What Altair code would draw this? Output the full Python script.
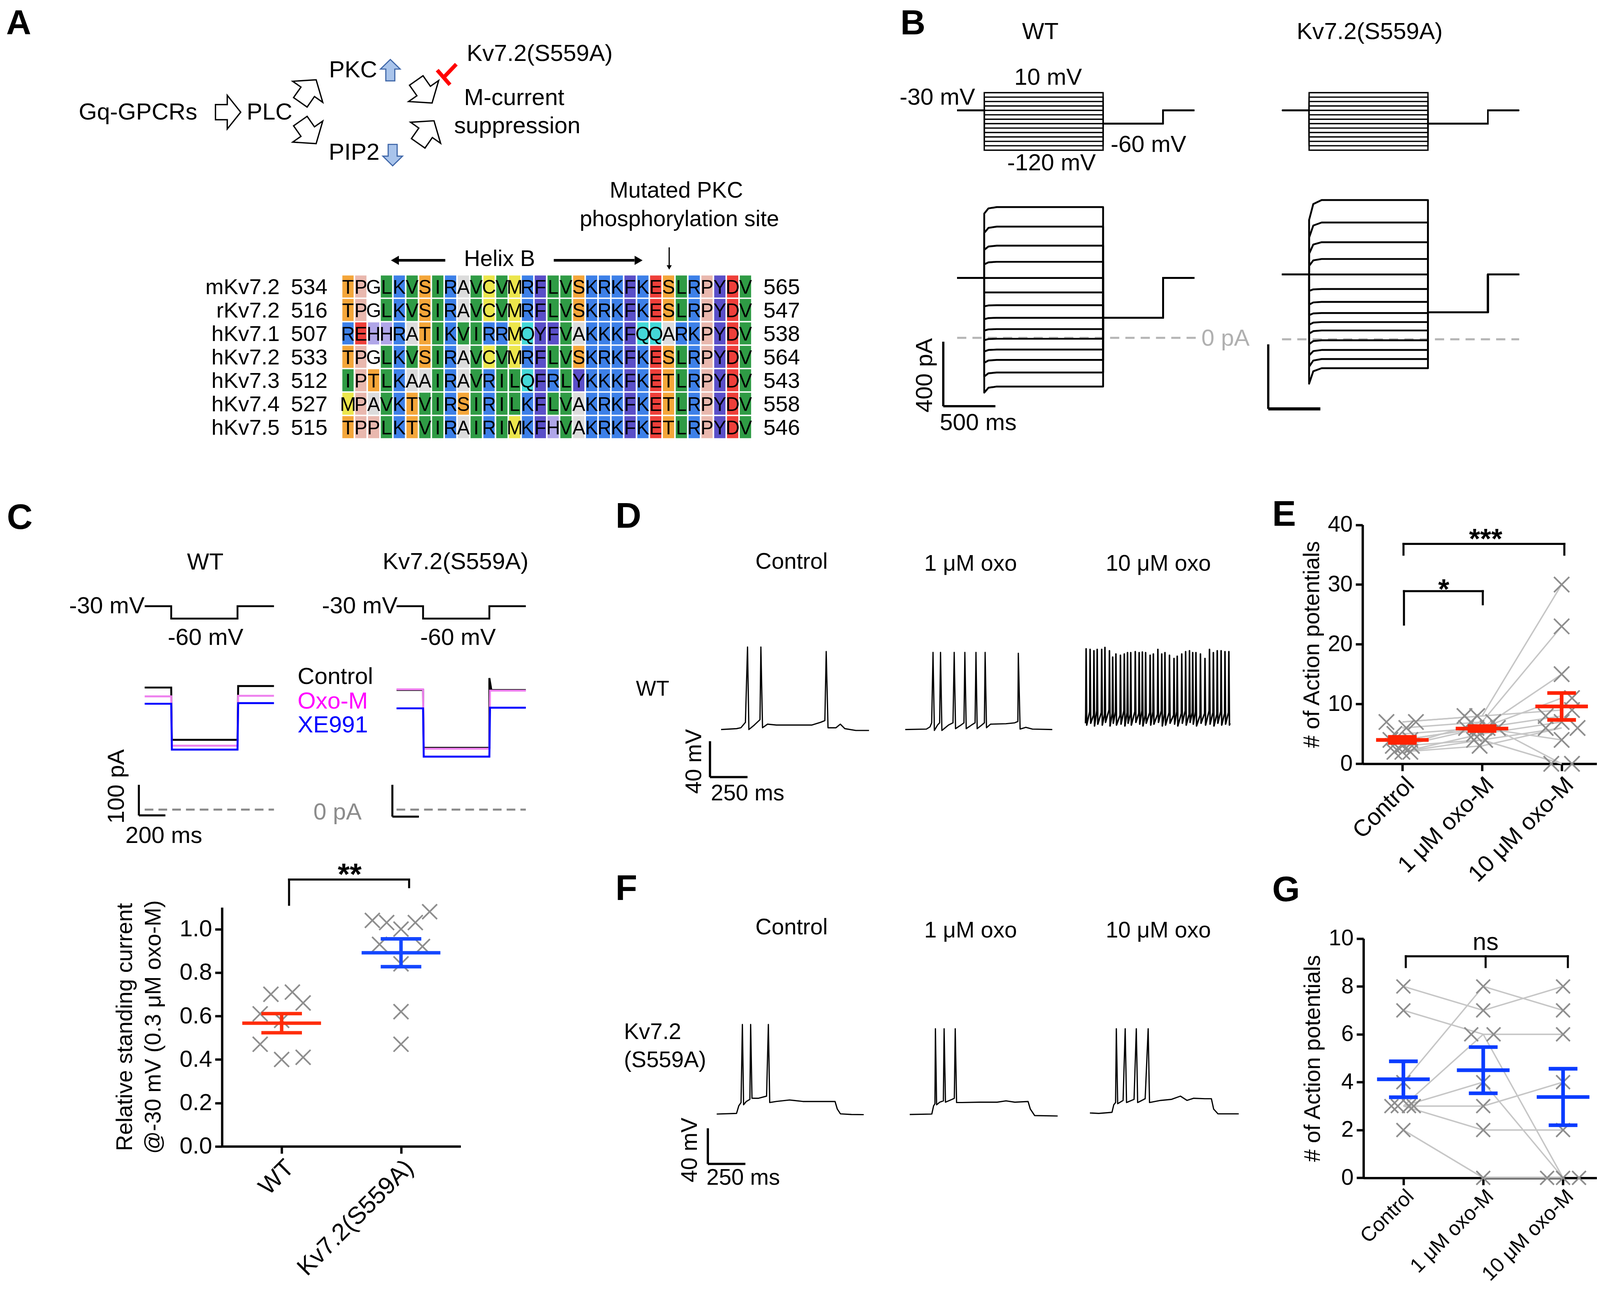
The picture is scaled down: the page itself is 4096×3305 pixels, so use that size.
import altair as alt
import pandas as pd

# ---------------------------------------------------------------- layout helpers
S = 2.634 * 0.991          # reference-preview px (1568x1265) -> output px
OFF = -2.0
W, H = 4080, 3289
FONT = "Liberation Sans"
NARROW = "Liberation Sans Narrow, Liberation Sans"


def P(v):
    return v * S + OFF


def sc(dom, r0, r1):
    return alt.Scale(domain=dom, range=[P(r0), P(r1)], nice=False, zero=False)


FX = sc([0, 1568], 0, 1568)
FY = sc([0, 1265], 0, 1265)


def qx(f, s, axis=None, title=None):
    if axis is None:
        return alt.X(f + ":Q", scale=s, axis=None)
    return alt.X(f + ":Q", scale=s, axis=axis, title=title)


def qy(f, s, axis=None, title=None):
    if axis is None:
        return alt.Y(f + ":Q", scale=s, axis=None)
    return alt.Y(f + ":Q", scale=s, axis=axis, title=title)


def seg_layer(rows, xs, ys, color="black", width=2.0, dash=None, cap="butt"):
    df = pd.DataFrame(rows, columns=["x", "y", "x2", "y2"])
    kw = dict(color=color, strokeWidth=width * S, strokeCap=cap)
    if dash is not None:
        kw["strokeDash"] = [d * S for d in dash]
    return alt.Chart(df).mark_rule(**kw).encode(
        x=qx("x", xs), y=qy("y", ys), x2="x2:Q", y2="y2:Q")


def line_layer(df, xs, ys, color="black", width=1.5, detail=None, join="round"):
    enc = dict(x=qx("t", xs), y=qy("v", ys), order=alt.Order("i:Q"))
    if detail:
        enc["detail"] = alt.Detail(detail + ":N")
    return alt.Chart(df).mark_line(color=color, strokeWidth=width * S,
                                   strokeJoin=join, strokeCap="butt").encode(**enc)


def pts_df(pairs):
    return pd.DataFrame([dict(i=k, t=t, v=v) for k, (t, v) in enumerate(pairs)])


def text_layers(rows, xs=FX, ys=FY):
    df = pd.DataFrame(rows, columns=["t", "x", "y", "s", "al", "fw", "c", "a"])
    df["s"] = df["s"] * S
    out = []
    for (al, fw), g in df.groupby(["al", "fw"], sort=False):
        out.append(alt.Chart(g.reset_index(drop=True)).mark_text(
            align=al, baseline="middle", font=FONT, fontWeight=fw).encode(
            x=qx("x", xs), y=qy("y", ys), text=alt.Text("t:N"),
            size=alt.Size("s:Q", scale=None, legend=None),
            color=alt.Color("c:N", scale=None, legend=None),
            angle=alt.Angle("a:Q", scale=None, legend=None)))
    return out


def T(t, x, y, s=23, al="center", fw="normal", c="black", a=0):
    return (t, x, y, s, al, fw, c, a)


def left_axis(xpos, values, title_pad=4, fmt=None, lab=22):
    kw = dict(orient="left", offset=-P(xpos), values=values, grid=False,
              labelOverlap=False, labelFlush=False, labelLimit=2000,
              domainColor="black", domainWidth=2.3 * S, tickColor="black",
              tickWidth=2.3 * S, tickSize=6.8 * S, labelFont=FONT,
              labelFontSize=lab * S, labelColor="black", labelPadding=3 * S,
              titleFont=FONT, titleFontSize=22 * S, titleFontWeight="normal",
              titleColor="black", titlePadding=title_pad * S,
              titleLineHeight=28 * S, titleLimit=4000)
    if fmt:
        kw["format"] = fmt
    return alt.Axis(**kw)


def bottom_axis(ypos, values, labels, lab=24, pad=2):
    expr = "[" + ",".join("'" + l + "'" for l in labels) + "][datum.value]"
    return alt.Axis(orient="bottom", offset=P(ypos) - H, values=values, grid=False,
                    labelExpr=expr, labelAngle=-45, labelAlign="right",
                    labelBaseline="top", labelOverlap=False, labelFlush=False,
                    labelLimit=2000,
                    domainColor="black", domainWidth=2.3 * S, tickColor="black",
                    tickWidth=2.3 * S, tickSize=7 * S, labelFont=FONT,
                    labelFontSize=lab * S, labelColor="black", labelPadding=pad * S)


XPATH = "M -1 -1 L 1 1 M -1 1 L 1 -1"


def cross_layer(df, xs, ys, size, xaxis=None, yaxis=None, ytitle=None):
    return alt.Chart(df).mark_point(shape=XPATH, filled=False, color="#8E8E8E",
                                    strokeWidth=1.6 * S, size=size, opacity=1).encode(
        x=qx("x", xs, xaxis, None), y=qy("y", ys, yaxis, ytitle))


def mean_segs(k, m, s, half=0.33, cap=0.175):
    return [(k - half, m, k + half, m), (k - cap, m + s, k + cap, m + s),
            (k - cap, m - s, k + cap, m - s), (k, m - s, k, m + s)]


def star_layer(txt, x, y, xs, ys, size=28, bold=True):
    fs = size * S
    df = pd.DataFrame([dict(x=x, y=y, t=txt)])
    return alt.Chart(df).mark_text(font=FONT, fontSize=fs, fontWeight="bold" if bold else "normal",
                                   baseline="alphabetic", dy=0.56 * fs, color="black").encode(
        x=qx("x", xs), y=qy("y", ys), text="t:N")


# ================================================================ DATA
# ---- panel A pathway diagram (centre x, centre y, angle, size)
ARROWS_OPEN = [(221.4, 107.7, 0, 33), (300, 87, 305, 36), (300, 127.5, 55, 36),
               (413.7, 87.7, 55, 36), (415.6, 127.2, 305, 36)]
ARROWS_UP = [(380.5, 66.5)]
ARROWS_DOWN = [(382.8, 149.8)]

# ---- sequence alignment
ALN_NAMES = ["mKv7.2", "rKv7.2", "hKv7.1", "hKv7.2", "hKv7.3", "hKv7.4", "hKv7.5"]
ALN_START = [534, 516, 507, 533, 512, 527, 515]
ALN_END = [565, 547, 538, 564, 543, 558, 546]
ALN_SEQ = ["TPGLKVSIRAVCVMRFLVSKRKFKESLRPYDV",
           "TPGLKVSIRAVCVMRFLVSKRKFKESLRPYDV",
           "REHHRATIKVIRRMQYFVAKKKFQQARKPYDV",
           "TPGLKVSIRAVCVMRFLVSKRKFKESLRPYDV",
           "IPTLKAAIRAVRILQFRLYKKKFKETLRPYDV",
           "MPAVKTVIRSIRILKFLVAKRKFKETLRPYDV",
           "TPPLKTVIRAIRIMKFHVAKRKFKETLRPYDV"]
AA_COLORS = {"T": "#F4A63A", "S": "#F4A63A", "P": "#E9B8AE", "G": "#FFFFFF",
             "L": "#2F9B45", "V": "#2F9B45", "I": "#2F9B45",
             "K": "#3D80E8", "R": "#3D80E8", "A": "#DCDCDC",
             "C": "#ECE64C", "M": "#ECE64C", "F": "#5A4FC8", "Y": "#5A4FC8",
             "E": "#EE3F3A", "D": "#EE3F3A", "Q": "#44D8D8", "H": "#B0A6E8"}

# ---- panel B (ms, mV, pA)
B_STEPS_MV = [10, 0, -10, -20, -30, -40, -50, -60, -70, -80, -90, -100, -110, -120]
B_TIMES = [0, 260, 1400, 1975, 2275]
BWT_LEVELS = [810, 689, 571, 471, 371, 281, 202, 124, 54, -6, -73, -137, -215, -302]
BWT_ONSET = [770, 650, 545, 455, 371, 281, 195, 115, 45, -15, -85, -155, -240, -340]
BWT_HOLD, BWT_TAIL = 371, 124
BMT_LEVELS = [863, 724, 602, 498, 402, 312, 232, 163, 107, 55, -6, -66, -122, -179]
BMT_ONSET = [740, 630, 530, 455, 402, 300, 215, 150, 90, 35, -30, -100, -170, -275]
BMT_HOLD, BMT_TAIL = 402, 168

# ---- panel C traces (ms, mV, pA)
C_PROTO = [(0, -30), (200, -30), (200, -60), (700, -60), (700, -30), (975, -30)]
C_TRACE_COLORS = ["#000000", "#EE80EE", "#0000FF"]
CWT_PRE = [399, 370, 346]
CWT_STEP = [228, 209, 196]
CWT_POST = [404, 372, 348]
CMT_PRE = [391, 393, 331]
CMT_STEP = [202, 199, 173]
CMT_POST = [391, 389, 333]

# ---- panel C summary
C_WT = [0.70, 0.71, 0.66, 0.61, 0.58, 0.47, 0.40, 0.41]
C_WT_JIT = [-0.09, 0.09, 0.18, -0.18, 0.0, -0.18, 0.0, 0.18]
C_MUT = [1.04, 1.03, 1.00, 1.03, 1.08, 0.93, 0.92, 0.84, 0.62, 0.47]
C_MUT_JIT = [-0.24, -0.12, 0.0, 0.12, 0.24, -0.18, 0.18, 0.0, 0.0, 0.0]
C_MEAN = [0.567, 0.891]
C_SEM = [0.044, 0.064]

# ---- panel D / F voltage traces (ms, mV)
D_CTRL = [(0, -65), (103, -64), (132, -63), (162, -57), (176, 27), (185, -65), (221, -60),
          (259, -54), (265, 27), (276, -63), (309, -59), (368, -60), (485, -60), (603, -60),
          (662, -57), (691, -55), (700, 22), (712, -63), (765, -63), (794, -59), (824, -64),
          (897, -66), (985, -66)]
D_1UM = [(0, -65), (141, -64.5), (165, -62), (176, -57.5), (185, 21), (194, -66), (215, -60),
         (229, -57.5), (235, 21), (244, -66), (288, -60), (318, -57.5), (326, 21), (335, -64),
         (371, -60), (391, -57.5), (397, 21), (406, -64), (441, -60), (465, -57.5), (471, 21),
         (479, -64), (509, -60), (527, -57.5), (532, 21), (541, -63), (568, -59), (671, -58.5),
         (729, -57.5), (750, -56), (753, 20), (765, -64.5), (803, -62.5), (847, -64.5), (979, -65)]
D_10UM_T = [4, 30.5, 56, 77.7, 107.8, 129.3, 159.4, 180.9, 202.4, 232.5, 258.3, 279.7, 301.2,
            331.3, 357.1, 378.6, 400.1, 430.2, 451.7, 481.8, 507.5, 529, 559.1, 589.2, 610.7,
            640.8, 666.6, 692.4, 713.8, 735.3, 765.4, 795.5, 825.6, 851.4, 877.2, 903, 928.7,
            954.5]
D_10UM_PK = [25.0, 24.3, 22.8, 24.3, 24.3, 26.5, 22.8, 15.7, 19.2, 17.8, 19.2, 20.7, 20.7,
             21.8, 20.7, 21.4, 20.7, 17.8, 19.2, 24.3, 19.2, 20.7, 17.8, 14.2, 16.7, 19.2,
             21.8, 22.8, 20.7, 20.7, 19.2, 14.2, 24.3, 20.7, 22.8, 22.8, 21.8, 21.8]
D_10UM_PRE = [-47, -45, -49, -44, -46, -48, -43, -47, -45, -49, -44, -46, -48, -45, -47,
              -44, -49, -46, -45, -48, -44, -47, -46, -49, -45, -47, -44, -48, -46, -45,
              -49, -47, -44, -46, -48, -45, -47, -46]
D_10UM_TR = [-60, -58, -61, -59, -60, -57, -61, -58, -60, -59, -61, -58, -60, -57, -59,
             -61, -58, -60, -59, -57, -61, -60, -58, -59, -61, -58, -60, -57, -59, -61,
             -58, -60, -59, -61, -58, -60, -59, -60]
F_CTRL = [(0, -65), (132, -64.3), (147, -55.8), (162, -52.1), (171, 35.6), (179, -54.6),
          (197, -50.9), (221, -48.5), (226, 35.6), (235, -47.3), (279, -47.3), (332, -44.9),
          (344, 35.6), (353, -52.1), (397, -50.9), (485, -49.2), (574, -50.9), (691, -50.9),
          (788, -50.9), (803, -59.4), (824, -64.8), (897, -65.5), (979, -65.7)]
F_1UM = [(0, -65.5), (147, -65), (159, -55.8), (168, -53.4), (171, 30.8), (179, -54.6),
         (200, -51.7), (224, -50.2), (229, 30.8), (238, -51.7), (282, -48.5), (297, -47.3),
         (303, 30.8), (312, -52.1), (347, -52.1), (465, -51.7), (582, -51.7), (641, -50.2),
         (700, -51.7), (788, -50.9), (803, -59.4), (832, -66.7), (985, -67.2)]
F_10UM = [(0, -63.8), (59, -64.3), (147, -63.1), (159, -54.6), (171, -52.1), (176, 30.8),
          (185, -53.4), (221, -49.7), (235, 30.8), (244, -52.1), (294, -48.5), (309, 30.8),
          (318, -52.1), (368, -47.8), (388, 30.8), (397, -52.1), (471, -49.7), (544, -48.5),
          (603, -44.9), (647, -49.7), (691, -47.3), (765, -47.8), (809, -47.8), (824, -59.4),
          (853, -64.8), (991, -64.8)]

# ---- panel E (# APs, WT)
E_LABELS = ["Control", "1 μM oxo-M", "10 μM oxo-M"]
E_CTRL = [7, 6, 5, 4, 7, 3, 2, 3, 2, 4, 2, 3]
E_1UM = [8, 7, 6, 6, 8, 6, 5, 4, 3, 6, 4, 7]
E_10UM = [30, 23, 15, 11, 9, 8, 7, 6, 6, 4, 0, 0]
E_JIT = [[-0.20, 0.05, -0.10, -0.15, 0.17, -0.12, -0.10, 0.0, 0.0, 0.10, 0.10, 0.12],
         [-0.22, 0.14, -0.20, -0.07, -0.06, 0.07, -0.10, 0.04, -0.03, 0.20, -0.10, -0.14],
         [0.0, 0.0, 0.0, 0.13, 0.13, -0.20, 0.0, -0.20, 0.20, 0.0, -0.13, 0.13]]
E_MEAN = [4.0, 5.9, 9.6]
E_SEM = [0.5, 0.4, 2.25]

# ---- panel G (# APs, S559A)
G_CTRL = [8, 7, 4, 3, 3, 3, 3, 2]
G_1UM = [7, 6, 8, 6, 3, 4, 2, 0]
G_10UM = [8, 6, 7, 0, 4, 0, 2, 0]
G_JIT = [[0, 0, 0, -0.15, -0.07, 0.07, 0.13, 0],
         [0, -0.15, 0, 0.13, 0, 0, 0, 0],
         [0, 0, 0, -0.2, 0, 0, 0, 0.2]]
G_MEAN = [4.12, 4.5, 3.38]
G_SEM = [0.75, 0.965, 1.18]

# ================================================================ TEXT
TEXTS = [
    T("A", 16, 21, 34, fw="bold"), T("B", 893, 21, 34, fw="bold"), T("C", 17, 506, 35, fw="bold"),
    T("D", 614, 505, 35, fw="bold"), T("E", 1257, 503, 35, fw="bold"),
    T("F", 612, 870, 35, fw="bold"), T("G", 1259, 871, 35, fw="bold"),
    T("Gq-GPCRs", 133, 108), T("PLC", 262, 108), T("PKC", 344, 66.5), T("PIP2", 345, 147.5),
    T("Kv7.2(S559A)", 527, 50.6), T("M-current", 502, 93.7), T("suppression", 505, 121.5),
    T("Mutated PKC", 661, 185, 22), T("phosphorylation site", 664, 213, 22),
    T("Helix B", 487.6, 252.2, 22),
    T("WT", 1018, 29), T("Kv7.2(S559A)", 1341, 29),
    T("-30 mV", 917, 93.5), T("10 mV", 1025.6, 74), T("-60 mV", 1124, 139.7),
    T("-120 mV", 1029, 158),
    T("0 pA", 1199.6, 330, c="#B0B0B0"), T("400 pA", 904.7, 365.8, a=270), T("500 ms", 957, 412.5),
    T("WT", 199, 549.4), T("Kv7.2(S559A)", 444.5, 549),
    T("-30 mV", 139.6, 592.2, al="right"), T("-30 mV", 387.6, 592.2, al="right"),
    T("-60 mV", 199.3, 623.4), T("-60 mV", 446.9, 623.4),
    T("Control", 289.5, 661.5, al="left"), T("Oxo-M", 289.5, 685.8, al="left", c="#FF00FF"),
    T("XE991", 289.5, 709, al="left", c="#0000FF"),
    T("100 pA", 112.4, 769, a=270), T("200 ms", 158.4, 817.6), T("0 pA", 328.7, 794.5, c="#8C8C8C"),
    T("Control", 774, 548.8, 22), T("1 μM oxo", 949.6, 550.8, 22), T("10 μM oxo", 1133.7, 550.8, 22),
    T("WT", 637.7, 674, 21), T("40 mV", 678.9, 744.5, 22, a=270), T("250 ms", 730.9, 776.3, 22),
    T("Control", 774, 907.6, 22), T("1 μM oxo", 949.6, 910.7, 22), T("10 μM oxo", 1133.7, 910.7, 22),
    T("Kv7.2", 609.6, 1010.2, 22, al="left"), T("(S559A)", 609.6, 1037.8, 22, al="left"),
    T("40 mV", 674.6, 1125.6, 22, a=270), T("250 ms", 726.6, 1153.1, 22),
]

# ================================================================ LAYERS (flat, independent)
layers = []

ARROW_PATH = "M -0.75 -0.45 L -0.05 -0.45 L -0.05 -1 L 0.75 0 L -0.05 1 L -0.05 0.45 L -0.75 0.45 Z"
UP_PATH = "M -0.42 1 L -0.42 -0.1 L -0.92 -0.1 L 0 -1 L 0.92 -0.1 L 0.42 -0.1 L 0.42 1 Z"
DOWN_PATH = "M -0.42 -1 L -0.42 0.1 L -0.92 0.1 L 0 1 L 0.92 0.1 L 0.42 0.1 L 0.42 -1 Z"


def glyphs(rows, shape, fill, stroke, sw):
    df = pd.DataFrame(rows, columns=["x", "y", "a", "sz"])
    df["sz"] = (df["sz"] * S) ** 2
    return alt.Chart(df).mark_point(shape=shape, filled=True, fill=fill,
                                    stroke=stroke, strokeWidth=sw, opacity=1).encode(
        x=qx("x", FX), y=qy("y", FY), angle=alt.Angle("a:Q", scale=None, legend=None),
        size=alt.Size("sz:Q", scale=None, legend=None))


def tri(x, y, shape, size):
    df = pd.DataFrame([dict(x=x, y=y)])
    return alt.Chart(df).mark_point(shape=shape, size=size, filled=True, color="black",
                                    opacity=1).encode(x=qx("x", FX), y=qy("y", FY))


layers += [
    glyphs(ARROWS_OPEN, ARROW_PATH, "white", "black", 1.3 * S),
    glyphs([(x, y, 0, 21) for x, y in ARROWS_UP], UP_PATH, "#A9C4EB", "#3E66A8", 1.1 * S),
    glyphs([(x, y, 0, 21) for x, y in ARROWS_DOWN], DOWN_PATH, "#A9C4EB", "#3E66A8", 1.1 * S),
    seg_layer([(426.5, 66.5, 439, 80.8), (432.8, 73.7, 445.2, 60.7)], FX, FY,
              color="#FF0000", width=3.8),
    seg_layer([(434.4, 253, 388, 253), (540.8, 253, 620, 253)], FX, FY, width=2.6),
    seg_layer([(654, 240.3, 654, 258)], FX, FY, width=1.2),
    tri(385, 253, "triangle-left", (9 * S) ** 2),
    tri(624, 253, "triangle-right", (9 * S) ** 2),
    tri(654, 260, "triangle-down", (5 * S) ** 2),
]
layers += text_layers(TEXTS)

# ---- alignment
AX = sc([0, 32], 332.7, 735.1)
AY = sc([0, 7], 267.2, 428.1)
aln = pd.DataFrame([dict(row=r, pos=p, aa=aa, col=AA_COLORS[aa])
                    for r, seq in enumerate(ALN_SEQ) for p, aa in enumerate(seq)])
layers.append(alt.Chart(aln).transform_calculate(
    x0="datum.pos + 0.06", x1="datum.pos + 0.94", y0="datum.row + 0.03", y1="datum.row + 0.97"
).mark_rect().encode(x=qx("x0", AX), x2="x1:Q", y=qy("y0", AY), y2="y1:Q",
                     color=alt.Color("col:N", scale=None, legend=None)))
layers.append(alt.Chart(aln).transform_calculate(xc="datum.pos + 0.5", yc="datum.row + 0.56").mark_text(
    font=NARROW, fontSize=19 * S, baseline="middle", color="black").encode(
    x=qx("xc", AX), y=qy("yc", AY), text="aa:N"))
lab = pd.DataFrame([dict(row=r, name=n, s=str(a), e=str(b))
                    for r, (n, a, b) in enumerate(zip(ALN_NAMES, ALN_START, ALN_END))])
for field, xn, al in (("name", "-4.83", "right"), ("s", "-3.95", "left"), ("e", "32.9", "left")):
    layers.append(alt.Chart(lab).transform_calculate(yc="datum.row + 0.55", xn=xn).mark_text(
        font=FONT, fontSize=21.5 * S, align=al, baseline="middle", color="black").encode(
        x=qx("xn", AX), y=qy("yc", AY), text=field + ":N"))

# ---- panel B: voltage protocols
proto_rows = []
for k, L in enumerate(B_STEPS_MV):
    vs = [(B_TIMES[0], -30), (B_TIMES[1], -30), (B_TIMES[1], L), (B_TIMES[2], L),
          (B_TIMES[2], -60), (B_TIMES[3], -60), (B_TIMES[3], -30), (B_TIMES[4], -30)]
    proto_rows += [dict(sw=k, i=i, t=t, v=v) for i, (t, v) in enumerate(vs)]
proto_df = pd.DataFrame(proto_rows)
BV_Y = sc([-120, 10], 145.0, 88.6)
BWT_X = sc([0, 2275], 936.4, 1169.0)
BMT_X = sc([0, 2275], 1255.0, 1487.6)
for bx in (BWT_X, BMT_X):
    layers.append(line_layer(proto_df, bx, BV_Y, width=1.3, detail="sw", join="miter"))


def b_current(levels, onset, hold, tail):
    rows = []
    for k, (lv, on) in enumerate(zip(levels, onset)):
        vs = [(0, hold), (260, hold), (260, on), (300, (on + lv) / 2.0 + (lv - on) * 0.3),
              (380, lv), (1400, lv), (1400, tail), (1975, tail), (1975, hold), (2275, hold)]
        rows += [dict(sw=k, i=i, t=t, v=v) for i, (t, v) in enumerate(vs)]
    return pd.DataFrame(rows)


BWT_IY = sc([-400, 1000], 392.3, 170.75)
BMT_IY = sc([-400, 1000], 393.8, 172.25)
layers += [
    seg_layer([(0, 0, 2330, 0)], BWT_X, BWT_IY, color="#B5B5B5", width=2.0, dash=[9, 6]),
    line_layer(b_current(BWT_LEVELS, BWT_ONSET, BWT_HOLD, BWT_TAIL), BWT_X, BWT_IY, width=1.8,
               detail="sw", join="round"),
    seg_layer([(-133, -24, -133, -424), (-133, -424, 367, -424)], BWT_X, BWT_IY, width=2.2),
    seg_layer([(0, 0, 2275, 0)], BMT_X, BMT_IY, color="#B5B5B5", width=2.0, dash=[9, 6]),
    line_layer(b_current(BMT_LEVELS, BMT_ONSET, BMT_HOLD, BMT_TAIL), BMT_X, BMT_IY, width=1.8,
               detail="sw", join="round"),
    seg_layer([(-132, -31, -132, -431)], BMT_X, BMT_IY, width=2.2),
    seg_layer([(-132, -431, 368, -431)], BMT_X, BMT_IY, width=3.0),
]

# ---- panel C: protocol + traces
CV_Y = sc([-60, -30], 604.4, 592.2)
CWT_X = sc([0, 975], 139.6, 266.4)
CMT_X = sc([0, 975], 386.6, 513.4)
CI_Y = sc([0, 400], 791.7, 671.7)
proto_c = pts_df(C_PROTO)
for cx in (CWT_X, CMT_X):
    layers.append(line_layer(proto_c, cx, CV_Y, width=1.8, join="miter"))


def c_traces(xs, pre, step, post, bars, transient=None):
    parts = [seg_layer([(0, 0, 975, 0)], xs, CI_Y, color="#8C8C8C", width=2.0, dash=[8.5, 5])]
    for k in range(3):
        pts = [(0, pre[k]), (200, pre[k]), (205, step[k]), (700, step[k])]
        if transient is not None and k == 0:
            pts += [(700, transient), (715, post[k])]
        else:
            pts += [(705, post[k])]
        pts += [(975, post[k])]
        parts.append(line_layer(pts_df(pts), xs, CI_Y, color=C_TRACE_COLORS[k], width=1.9,
                                join="miter"))
    parts.append(seg_layer(bars, xs, CI_Y, width=2.0))
    return parts


layers += c_traces(CWT_X, CWT_PRE, CWT_STEP, CWT_POST,
                   [(-44, 81, -44, -19), (-44, -19, 156, -19)])
layers += c_traces(CMT_X, CMT_PRE, CMT_STEP, CMT_POST,
                   [(-31.5, 81, -31.5, -23), (-31.5, -23, 168.5, -23)], transient=430)

# ---- panel C summary plot
CX = sc([-0.5, 1.5], 215.4, 449.5)
CY = sc([0, 1.1], 1122.0, 887.6)
c_pts = pd.DataFrame([dict(x=0 + j, y=v) for v, j in zip(C_WT, C_WT_JIT)] +
                     [dict(x=1 + j, y=v) for v, j in zip(C_MUT, C_MUT_JIT)])
layers += [
    cross_layer(c_pts, CX, CY, (14.6 * S) ** 2,
                xaxis=bottom_axis(1122.0, [0, 1], ["WT", "Kv7.2(S559A)"]),
                yaxis=left_axis(215.4, [0, 0.2, 0.4, 0.6, 0.8, 1.0], title_pad=14, fmt=".1f", lab=23),
                ytitle=["Relative standing current", "@-30 mV (0.3 μM oxo-M)"]),
    seg_layer(mean_segs(0, C_MEAN[0], C_SEM[0], 0.33, 0.17), CX, CY, color="#FF2D0A", width=3.4),
    seg_layer(mean_segs(1, C_MEAN[1], C_SEM[1], 0.33, 0.17), CX, CY, color="#1447FF", width=3.4),
    seg_layer([(0.062, 1.112, 0.062, 1.228), (0.062, 1.228, 1.068, 1.228),
               (1.068, 1.228, 1.068, 1.193)], CX, CY, width=2.0, cap="square"),
    star_layer("**", 0.57, 1.283, CX, CY, size=30),
]


# ---- panel D / F traces
def spikes_trace(times, peaks, pres, troughs, start_v, end_t):
    pts = [(0, start_v)]
    for t, p, pr, tr in zip(times, peaks, pres, troughs):
        pts += [(t - 2.5, pr), (t, p), (t + 4, tr)]
    pts.append((end_t, start_v))
    return pts


D_Y = sc([-120, 40], 761.6, 620.8)
F_Y = sc([-120, 40], 1138.3, 998.6)
LEN = 1000 / 6.79


def tx(start):
    return sc([0, 1000], start, start + LEN)


layers += [
    line_layer(pts_df(D_CTRL), tx(704.9), D_Y, width=1.2),
    seg_layer([(-74, -78, -74, -118), (-74, -118, 176, -118)], tx(704.9), D_Y, width=2.2),
    line_layer(pts_df(D_1UM), tx(885.5), D_Y, width=1.2),
    line_layer(pts_df(spikes_trace(D_10UM_T, D_10UM_PK, D_10UM_PRE, D_10UM_TR, -58, 962)),
               tx(1062.3), D_Y, width=1.5),
    line_layer(pts_df(F_CTRL), tx(700.6), F_Y, width=1.2),
    seg_layer([(-59, -81, -59, -121), (-59, -121, 191, -121)], tx(700.6), F_Y, width=2.2),
    line_layer(pts_df(F_1UM), tx(889.9), F_Y, width=1.2),
    line_layer(pts_df(F_10UM), tx(1066.6), F_Y, width=1.2),
]


# ---- panels E and G
def ap_panel(vals, jit, means, sems, xs, ys, xpos, ybottom, yvalues, color, extras, size, lab, pad):
    pts = pd.DataFrame([dict(x=k + j, y=v) for k in range(3) for v, j in zip(vals[k], jit[k])])
    lines = pd.DataFrame([dict(cell=c, i=k, t=k, v=vals[k][c])
                          for c in range(len(vals[0])) for k in range(3)])
    parts = [
        line_layer(lines, xs, ys, color="#C6C6C6", width=1.4, detail="cell"),
        cross_layer(pts, xs, ys, size,
                    xaxis=bottom_axis(ybottom, [0, 1, 2], E_LABELS, lab=lab, pad=pad),
                    yaxis=left_axis(xpos, yvalues, title_pad=4, lab=22),
                    ytitle="# of Action potentials"),
    ]
    for k in range(3):
        parts.append(seg_layer(mean_segs(k, means[k], sems[k], 0.33, 0.18), xs, ys,
                               color=color, width=3.6))
    return parts + extras


EX = sc([-0.5, 2.5], 1334.0, 1568.3)
EY = sc([0, 40], 746.8, 512.4)
layers += ap_panel(
    [E_CTRL, E_1UM, E_10UM], E_JIT, E_MEAN, E_SEM, EX, EY, 1334.0, 746.8,
    [0, 10, 20, 30, 40], "#FF2200",
    [seg_layer([(0.014, 35.0, 0.014, 36.8), (0.014, 36.8, 2.034, 36.8), (2.034, 36.8, 2.034, 35.0),
                (0.02, 23.3, 0.02, 28.9), (0.02, 28.9, 1.01, 28.9), (1.01, 28.9, 1.01, 26.7)],
               EX, EY, width=2.0, cap="square"),
     star_layer("***", 1.046, 38.7, EX, EY, size=28),
     star_layer("*", 0.52, 30.3, EX, EY, size=28)],
    (15 * S) ** 2, 23, 2)

GX = sc([-0.5, 2.5], 1334.9, 1569.8)
GY = sc([0, 10], 1152.9, 918.2)
ns_df = pd.DataFrame([dict(x=1.03, y=9.83, t="ns")])
layers += ap_panel(
    [G_CTRL, G_1UM, G_10UM], G_JIT, G_MEAN, G_SEM, GX, GY, 1334.9, 1152.9,
    [0, 2, 4, 6, 8, 10], "#0A3CFF",
    [seg_layer([(0.03, 8.81, 0.03, 9.26), (0.03, 9.26, 2.06, 9.26), (2.06, 9.26, 2.06, 8.81),
                (1.03, 9.26, 1.03, 8.81)], GX, GY, width=2.0, cap="square"),
     alt.Chart(ns_df).mark_text(font=FONT, fontSize=24 * S, baseline="middle", color="black").encode(
         x=qx("x", GX), y=qy("y", GY), text="t:N")],
    (13.5 * S) ** 2, 20, 1)

chart = alt.layer(*layers).resolve_scale(x="independent", y="independent").properties(
    width=W, height=H, padding=0, background="white",
    autosize=alt.AutoSizeParams(type="none")).configure_view(stroke=None)

chart.save("out.html", embed_options={"renderer": "svg", "actions": False})
